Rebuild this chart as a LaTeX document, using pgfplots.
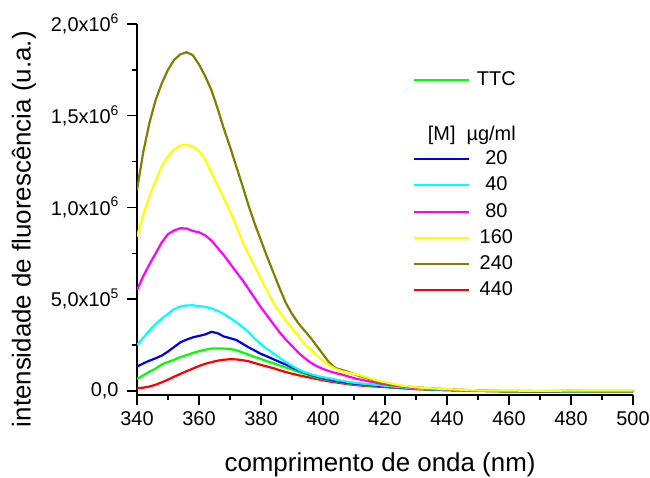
\documentclass[border=0pt]{standalone}
\usepackage{fontspec}
\setmainfont{Liberation Sans}
\usepackage{pgfplots}
\pgfplotsset{compat=1.18}
\usepackage{pgfplotstable}

\definecolor{cttc}{RGB}{0,255,0}
\definecolor{c20}{RGB}{0,0,230}
\definecolor{c40}{RGB}{0,255,255}
\definecolor{c80}{RGB}{255,0,255}
\definecolor{c160}{RGB}{255,255,0}
\definecolor{c240}{RGB}{128,128,0}
\definecolor{c440}{RGB}{255,0,0}

\newcommand{\expo}[1]{\raisebox{0.42em}{\fontsize{14}{14}\selectfont #1}}

% Emission spectra, intensity in units of 10^6
\pgfplotstableread{
x     ttc    m20    m40    m80    m160   m240   m440
340   0.065  0.133  0.251  0.550  0.841  1.095  0.015
342   0.085  0.150  0.290  0.625  0.960  1.300  0.018
344   0.105  0.165  0.330  0.690  1.060  1.460  0.024
346   0.122  0.178  0.365  0.750  1.145  1.585  0.034
348   0.145  0.193  0.395  0.810  1.225  1.677  0.047
350   0.158  0.215  0.420  0.855  1.280  1.750  0.062
352   0.170  0.240  0.447  0.875  1.318  1.805  0.078
354   0.185  0.265  0.460  0.887  1.338  1.835  0.093
356   0.195  0.280  0.466  0.885  1.341  1.846  0.108
358   0.207  0.292  0.467  0.872  1.333  1.830  0.122
360   0.217  0.300  0.462  0.865  1.308  1.780  0.136
362   0.225  0.308  0.459  0.848  1.260  1.715  0.148
364   0.231  0.322  0.450  0.820  1.190  1.640  0.157
366   0.232  0.315  0.437  0.780  1.120  1.540  0.165
368   0.231  0.297  0.420  0.740  1.050  1.430  0.170
370   0.229  0.288  0.398  0.695  0.980  1.331  0.173
372   0.222  0.278  0.375  0.650  0.900  1.225  0.172
374   0.210  0.258  0.350  0.605  0.815  1.120  0.168
376   0.198  0.238  0.320  0.555  0.745  1.010  0.162
378   0.185  0.220  0.285  0.505  0.680  0.910  0.152
380   0.174  0.202  0.255  0.455  0.610  0.820  0.142
382   0.162  0.188  0.228  0.410  0.545  0.730  0.133
384   0.151  0.173  0.205  0.365  0.480  0.645  0.124
386   0.140  0.158  0.180  0.320  0.430  0.560  0.113
388   0.128  0.144  0.158  0.280  0.385  0.480  0.103
390   0.117  0.128  0.137  0.245  0.340  0.420  0.094
392   0.105  0.113  0.118  0.210  0.300  0.370  0.086
394   0.094  0.100  0.103  0.180  0.255  0.330  0.079
396   0.083  0.088  0.092  0.155  0.225  0.290  0.072
398   0.073  0.078  0.083  0.135  0.195  0.245  0.065
400   0.065  0.069  0.075  0.120  0.165  0.200  0.058
402   0.058  0.062  0.069  0.108  0.140  0.155  0.052
404   0.052  0.055  0.062  0.098  0.120  0.125  0.047
406   0.046  0.049  0.056  0.090  0.108  0.115  0.042
408   0.041  0.044  0.050  0.080  0.100  0.105  0.037
410   0.037  0.040  0.045  0.070  0.092  0.092  0.033
412   0.034  0.037  0.041  0.062  0.085  0.080  0.030
414   0.031  0.034  0.038  0.055  0.075  0.070  0.027
416   0.029  0.031  0.035  0.048  0.065  0.060  0.025
418   0.027  0.028  0.032  0.042  0.055  0.050  0.023
420   0.024  0.025  0.028  0.036  0.048  0.042  0.021
425   0.017  0.018  0.020  0.025  0.030  0.028  0.015
430   0.011  0.012  0.013  0.016  0.020  0.020  0.010
435   0.008  0.008  0.009  0.012  0.014  0.014  0.007
440   0.005  0.005  0.006  0.008  0.010  0.010  0.005
450   0.001  0.001  0.001  0.002  0.003  0.002  0.001
460  -0.002 -0.002 -0.002  0.000  0.002 -0.002 -0.002
470  -0.002 -0.003 -0.002 -0.001  0.001 -0.002 -0.003
480  -0.001 -0.002 -0.001  0.001  0.002  0.000 -0.002
490  -0.002 -0.002 -0.002  0.000  0.002 -0.002 -0.002
500  -0.001 -0.002 -0.001  0.000  0.002 -0.001 -0.002
}\spectra

\begin{document}
\begin{tikzpicture}
\useasboundingbox (0,0) rectangle (650bp,478bp);
\begin{axis}[
  at={(137bp,83bp)}, anchor=south west,
  scale only axis, width=496bp, height=371bp,
  xmin=340, xmax=500, ymin=-0.022, ymax=2.0,
  axis lines=left,
  axis line style={-, line width=1.5bp},
  xtick={340,360,...,500}, minor x tick num=1,
  ytick={0,0.5,1,1.5,2}, minor y tick num=1,
  yticklabels={{0,0},{5,0x10\expo{5}},{1,0x10\expo{6}},{1,5x10\expo{6}},{2,0x10\expo{6}}},
  tick align=outside,
  major tick length=10bp, minor tick length=5bp,
  tick style={black, line width=1.5bp},
  /pgf/number format/assume math mode=true,
  tick label style={font=\fontsize{20}{24}\selectfont},
  xticklabel style={yshift=-3bp},
  yticklabel style={xshift=-5bp},
  label style={font=\fontsize{26}{31}\selectfont},
  xlabel={comprimento de onda (nm)},
  ylabel={intensidade de fluorescência (u.a.)},
  xlabel style={at={(axis description cs:0.49,-0.189)}, anchor=center},
  ylabel style={at={(axis description cs:-0.228,0.447)}, anchor=center, rotate=0},
  legend style={draw=none, fill=none, at={(axis description cs:0.556,0.875)}, anchor=north west,
    font=\fontsize{20}{24}\selectfont, inner sep=0pt, row sep=7.3bp, column sep=7bp,
    nodes={inner sep=0pt, text height=15bp, text depth=4bp}},
  legend cell align=center,
  legend image code/.code={\draw[#1] (0bp,0bp) -- (55bp,0bp);},
  every axis plot/.append style={line width=2.2bp},
]
\addlegendimage{cttc, line width=2bp}\addlegendentry{TTC}
\addlegendimage{empty legend}\addlegendentry{}
\addlegendimage{empty legend}\addlegendentry{}
\addlegendimage{c20, line width=2bp}\addlegendentry{20}
\addlegendimage{c40, line width=2bp}\addlegendentry{40}
\addlegendimage{c80, line width=2bp}\addlegendentry{80}
\addlegendimage{c160, line width=2bp}\addlegendentry{160}
\addlegendimage{c240, line width=2bp}\addlegendentry{240}
\addlegendimage{c440, line width=2bp}\addlegendentry{440}

\addplot[c440, forget plot] table[x=x, y=m440] {\spectra};
\addplot[cttc, forget plot] table[x=x, y=ttc] {\spectra};
\addplot[c20, forget plot] table[x=x, y=m20] {\spectra};
\addplot[c40, forget plot] table[x=x, y=m40] {\spectra};
\addplot[c80, forget plot] table[x=x, y=m80] {\spectra};
\addplot[c240, forget plot] table[x=x, y=m240] {\spectra};
\addplot[c160, forget plot] table[x=x, y=m160] {\spectra};

\node[font=\fontsize{20}{24}\selectfont, anchor=center] at (axis description cs:0.675,0.700) {[M]~~µg/ml};
\end{axis}
\end{tikzpicture}
\end{document}
